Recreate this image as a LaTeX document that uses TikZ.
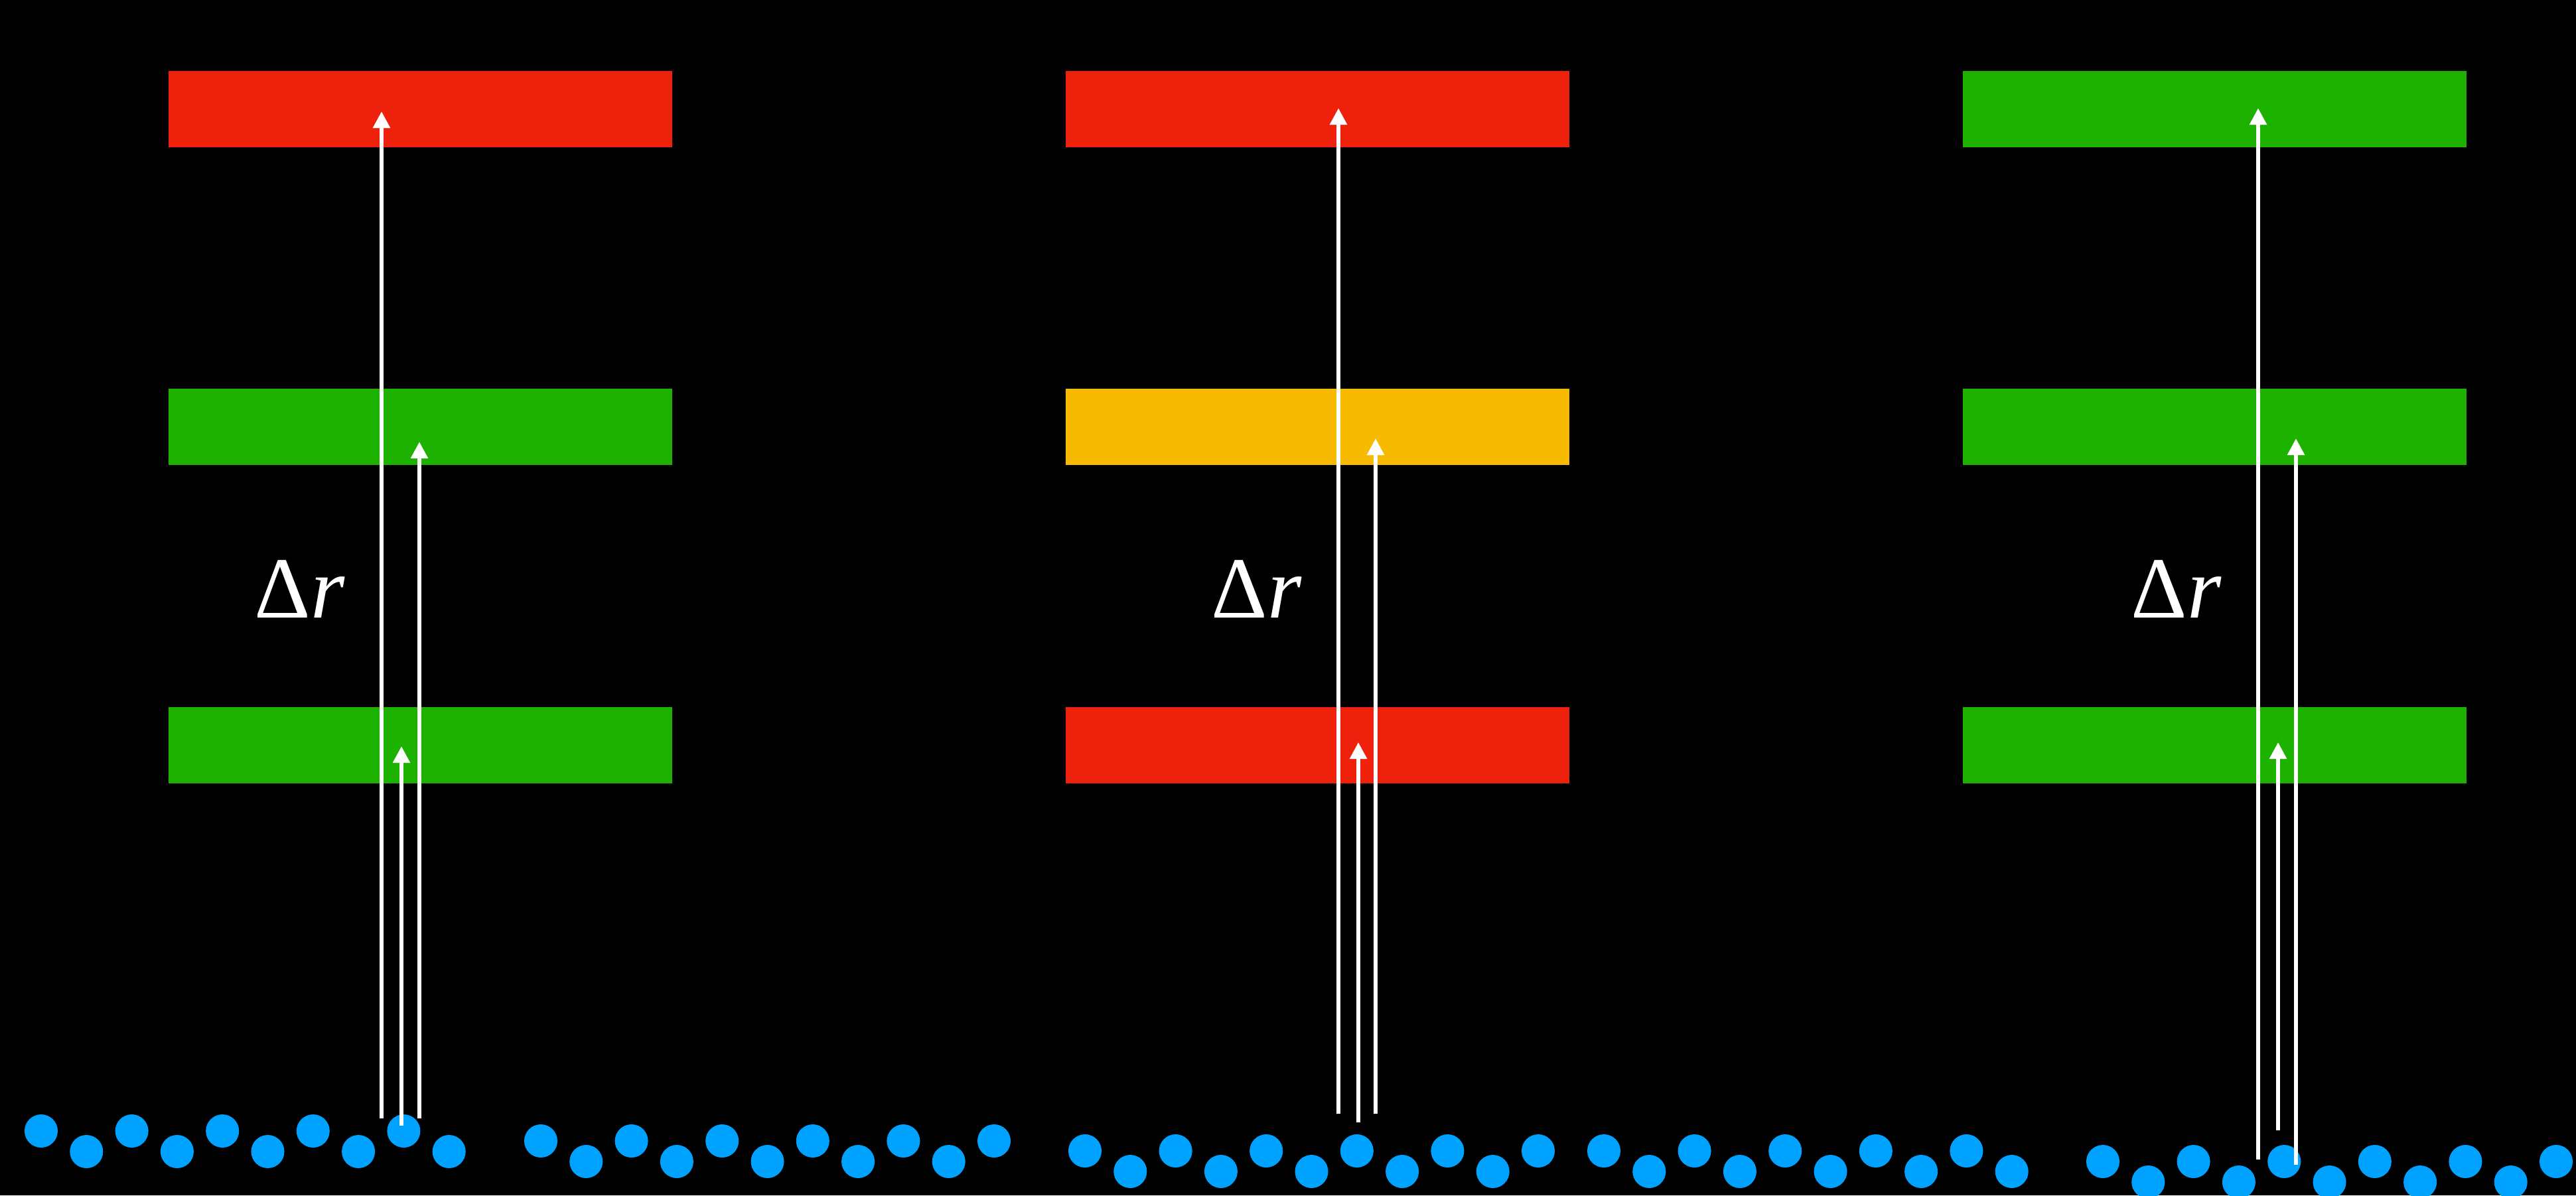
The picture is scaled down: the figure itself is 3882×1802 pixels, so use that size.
\documentclass[tikz,border=0pt]{standalone}
\usepackage{fontspec}
\setmainfont{Liberation Serif}
\usetikzlibrary{arrows.meta}
\definecolor{kred}{HTML}{EE220C}
\definecolor{kgreen}{HTML}{1DB100}
\definecolor{kyellow}{HTML}{F8BA00}
\definecolor{kblue}{HTML}{00A2FF}
\begin{document}
\begin{tikzpicture}[x=0.01cm,y=-0.01cm,
  bar/.style={rectangle, minimum width=7.59cm, minimum height=1.15cm, inner sep=0pt, draw=none},
  dot/.style={circle, fill=kblue, minimum size=0.5cm, inner sep=0pt, draw=none},
  ray/.style={draw=white, line width=0.057cm, -{Triangle[width=0.25cm,length=0.25cm]}},
  lbl/.style={text=white, font=\fontsize{37.4}{40}\selectfont, inner sep=0pt, anchor=base west}]
\fill[black] (0,0) rectangle (3882,1802);
\useasboundingbox (0,0) rectangle (3882,1802);

% bars
\node[bar, fill=kred]    (b1t) at (633.5,164.5) {};
\node[bar, fill=kgreen]  (b1m) at (633.5,643.5) {};
\node[bar, fill=kgreen]  (b1b) at (633.5,1123.5) {};
\node[bar, fill=kred]    (b2t) at (1985.5,164.5) {};
\node[bar, fill=kyellow] (b2m) at (1985.5,643.5) {};
\node[bar, fill=kred]    (b2b) at (1985.5,1123.5) {};
\node[bar, fill=kgreen]  (b3t) at (3337.5,164.5) {};
\node[bar, fill=kgreen]  (b3m) at (3337.5,643.5) {};
\node[bar, fill=kgreen]  (b3b) at (3337.5,1123.5) {};

% labels
\node[lbl] (l1) at (383,931) {Δ\textit{r}};
\node[lbl] (l2) at (1825,931) {Δ\textit{r}};
\node[lbl] (l3) at (3211,931) {Δ\textit{r}};

% dots
\foreach \g/\x/\n/\yu/\yd in {1/62/9/1705/1736, 2/815/10/1720/1751, 3/1635/10/1735/1766, 4/2417/9/1735/1766, 5/3169/10/1751/1782}{
  \foreach \k in {0,...,\n}{
    \pgfmathsetmacro\xx{\x+68.3*\k}
    \pgfmathsetmacro\yy{mod(\k,2)==0 ? \yu : \yd}
    \node[dot] (d\g-\k) at (\xx,\yy) {};
  }
}

% arrows column 1
\coordinate (s1a) at (575,1686); \coordinate (e1a) at (575,168);
\coordinate (s1b) at (605,1697); \coordinate (e1b) at (605,1125);
\coordinate (s1c) at (632,1686); \coordinate (e1c) at (632,666);
% arrows column 2
\coordinate (s2a) at (2017,1679); \coordinate (e2a) at (2017,163);
\coordinate (s2b) at (2047,1692); \coordinate (e2b) at (2047,1119);
\coordinate (s2c) at (2073,1679); \coordinate (e2c) at (2073,661);
% arrows column 3
\coordinate (s3a) at (3403,1748); \coordinate (e3a) at (3403,163);
\coordinate (s3b) at (3433,1704); \coordinate (e3b) at (3433,1119);
\coordinate (s3c) at (3460,1756); \coordinate (e3c) at (3460,661);

\foreach \c in {1,2,3}{
  \foreach \r in {a,b,c}{
    \draw[ray] (s\c\r) -- (e\c\r);
  }
}
\end{tikzpicture}
\end{document}
